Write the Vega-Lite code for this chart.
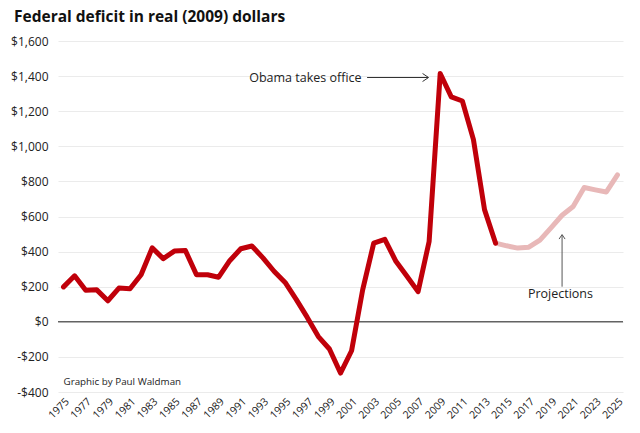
{
  "$schema": "https://vega.github.io/schema/vega-lite/v6.json",
  "width": 565,
  "height": 351,
  "autosize": {"type": "none"},
  "padding": {"left": 58, "top": 41, "right": 17, "bottom": 41},
  "background": "white",
  "config": {"font": "Open Sans", "view": {"stroke": null}, "axis": {"labelOverlap": false}},
  "title": {
    "text": "Federal deficit in real (2009) dollars",
    "anchor": "start",
    "frame": "group",
    "dx": -44,
    "offset": 10,
    "fontSize": 15.5,
    "fontWeight": "bold",
    "color": "#111",
    "font": "Open Sans"
  },
  "datasets": {
    "deficit": [
      {"year": 1975, "value": 199, "series": "actual"},
      {"year": 1976, "value": 262, "series": "actual"},
      {"year": 1977, "value": 180, "series": "actual"},
      {"year": 1978, "value": 182, "series": "actual"},
      {"year": 1979, "value": 120, "series": "actual"},
      {"year": 1980, "value": 192, "series": "actual"},
      {"year": 1981, "value": 188, "series": "actual"},
      {"year": 1982, "value": 268, "series": "actual"},
      {"year": 1983, "value": 421, "series": "actual"},
      {"year": 1984, "value": 360, "series": "actual"},
      {"year": 1985, "value": 403, "series": "actual"},
      {"year": 1986, "value": 406, "series": "actual"},
      {"year": 1987, "value": 268, "series": "actual"},
      {"year": 1988, "value": 268, "series": "actual"},
      {"year": 1989, "value": 254, "series": "actual"},
      {"year": 1990, "value": 348, "series": "actual"},
      {"year": 1991, "value": 416, "series": "actual"},
      {"year": 1992, "value": 432, "series": "actual"},
      {"year": 1993, "value": 364, "series": "actual"},
      {"year": 1994, "value": 288, "series": "actual"},
      {"year": 1995, "value": 224, "series": "actual"},
      {"year": 1996, "value": 128, "series": "actual"},
      {"year": 1997, "value": 25, "series": "actual"},
      {"year": 1998, "value": -84, "series": "actual"},
      {"year": 1999, "value": -155, "series": "actual"},
      {"year": 2000, "value": -292, "series": "actual"},
      {"year": 2001, "value": -165, "series": "actual"},
      {"year": 2002, "value": 182, "series": "actual"},
      {"year": 2003, "value": 448, "series": "actual"},
      {"year": 2004, "value": 470, "series": "actual"},
      {"year": 2005, "value": 345, "series": "actual"},
      {"year": 2006, "value": 260, "series": "actual"},
      {"year": 2007, "value": 172, "series": "actual"},
      {"year": 2008, "value": 458, "series": "actual"},
      {"year": 2009, "value": 1415, "series": "actual"},
      {"year": 2010, "value": 1282, "series": "actual"},
      {"year": 2011, "value": 1258, "series": "actual"},
      {"year": 2012, "value": 1038, "series": "actual"},
      {"year": 2013, "value": 639, "series": "actual"},
      {"year": 2014, "value": 448, "series": "actual"},
      {"year": 2014, "value": 448, "series": "projection"},
      {"year": 2015, "value": 433, "series": "projection"},
      {"year": 2016, "value": 420, "series": "projection"},
      {"year": 2017, "value": 425, "series": "projection"},
      {"year": 2018, "value": 465, "series": "projection"},
      {"year": 2019, "value": 535, "series": "projection"},
      {"year": 2020, "value": 607, "series": "projection"},
      {"year": 2021, "value": 657, "series": "projection"},
      {"year": 2022, "value": 765, "series": "projection"},
      {"year": 2023, "value": 752, "series": "projection"},
      {"year": 2024, "value": 740, "series": "projection"},
      {"year": 2025, "value": 837, "series": "projection"}
    ]
  },
  "encoding": {
    "x": {
      "field": "year", "type": "quantitative",
      "scale": {"domain": [1974.5, 2025.5], "nice": false, "zero": false},
      "axis": {
        "title": null,
        "values": [1975, 1977, 1979, 1981, 1983, 1985, 1987, 1989, 1991, 1993, 1995, 1997, 1999, 2001, 2003, 2005, 2007, 2009, 2011, 2013, 2015, 2017, 2019, 2021, 2023, 2025],
        "format": "d",
        "labelOverlap": false,
        "labelAngle": -45,
        "domain": false, "ticks": false, "grid": false,
        "labelPadding": 4,
        "labelFontSize": 10.5,
        "labelColor": "#222",
        "labelFont": "Open Sans"
      }
    },
    "y": {
      "field": "value", "type": "quantitative",
      "scale": {"domain": [-400, 1600], "nice": false},
      "axis": {
        "title": null,
        "values": [-400, -200, 0, 200, 400, 600, 800, 1000, 1200, 1400, 1600],
        "labelExpr": "(datum.value < 0 ? '-' : '') + '$' + format(abs(datum.value), ',')",
        "labelOverlap": false,
        "domain": false, "ticks": false,
        "labelPadding": 10,
        "labelFontSize": 12,
        "labelColor": "#222",
        "labelFont": "Open Sans",
        "gridColor": "#ebebeb",
        "gridWidth": 1
      }
    }
  },
  "layer": [
    {
      "data": {"values": [{"year": 1974.5, "year_end": 2025.5, "value": 0}]},
      "mark": {"type": "rule", "color": "#222", "strokeWidth": 1},
      "encoding": {"x2": {"field": "year_end"}}
    },
    {
      "data": {"name": "deficit"},
      "transform": [{"filter": "datum.series == 'projection'"}],
      "mark": {"type": "line", "color": "#e8b8b8", "strokeWidth": 5, "strokeJoin": "round", "strokeCap": "round"}
    },
    {
      "data": {"name": "deficit"},
      "transform": [{"filter": "datum.series == 'actual'"}],
      "mark": {"type": "line", "color": "#c0000a", "strokeWidth": 5, "strokeJoin": "round", "strokeCap": "round"}
    },
    {
      "data": {"values": [{"year": 2002.4, "year_end": 2007.9, "value": 1392}]},
      "mark": {"type": "rule", "color": "#333", "strokeWidth": 1},
      "encoding": {"x2": {"field": "year_end"}}
    },
    {
      "data": {"values": [{"year": 2007.95, "value": 1392}]},
      "mark": {"type": "point", "shape": "M-1.5,-1L0,0L-1.5,1", "filled": false, "size": 64, "color": "#333", "strokeWidth": 1, "opacity": 1}
    },
    {
      "data": {"values": [{"year": 2020, "value": 200, "value_end": 495}]},
      "mark": {"type": "rule", "color": "#555", "strokeWidth": 1},
      "encoding": {"y2": {"field": "value_end"}}
    },
    {
      "data": {"values": [{"year": 2020, "value": 497}]},
      "mark": {"type": "point", "shape": "M-1,1.5L0,0L1,1.5", "filled": false, "size": 36, "color": "#555", "strokeWidth": 1, "opacity": 1}
    },
    {
      "data": {"values": [{"year": 2001.9, "value": 1388, "label": "Obama takes office"}]},
      "mark": {"type": "text", "fontSize": 12.5, "color": "#222", "align": "right", "baseline": "middle", "font": "Open Sans"},
      "encoding": {"text": {"field": "label"}}
    },
    {
      "data": {"values": [{"year": 2019.85, "value": 158, "label": "Projections"}]},
      "mark": {"type": "text", "fontSize": 12.5, "color": "#222", "align": "center", "baseline": "middle", "font": "Open Sans"},
      "encoding": {"text": {"field": "label"}}
    },
    {
      "data": {"values": [{"year": 1975, "value": -342, "label": "Graphic by Paul Waldman"}]},
      "mark": {"type": "text", "fontSize": 9.8, "color": "#222", "align": "left", "baseline": "middle", "font": "Open Sans"},
      "encoding": {"text": {"field": "label"}}
    }
  ]
}
